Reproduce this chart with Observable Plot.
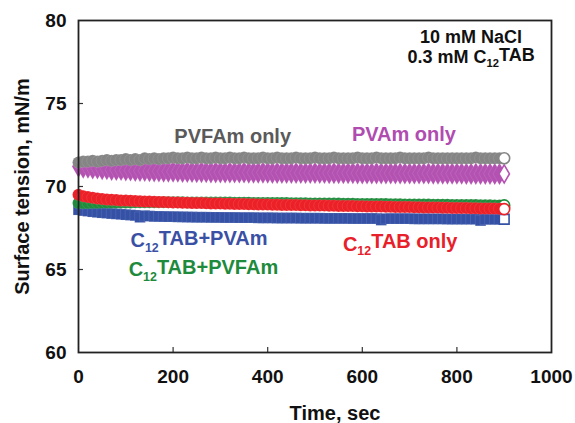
<!DOCTYPE html>
<html><head><meta charset="utf-8">
<script src="https://cdn.jsdelivr.net/npm/d3@7"></script>
<script src="https://cdn.jsdelivr.net/npm/@observablehq/plot@0.6"></script>
<style>
body{margin:0;background:#fff}
svg{font-family:Arial,"Liberation Sans",sans-serif}
</style>
</head><body><div id="chart"></div>
<script>
// Time axis (s), sampled every 10 s
const times = [0,10,20,30,40,50,60,70,80,90,100,110,120,130,140,150,160,170,180,190,
200,210,220,230,240,250,260,270,280,290,300,310,320,330,340,350,360,370,380,390,
400,410,420,430,440,450,460,470,480,490,500,510,520,530,540,550,560,570,580,590,
600,610,620,630,640,650,660,670,680,690,700,710,720,730,740,750,760,770,780,790,
800,810,820,830,840,850,860,870,880,890,900];

const pvfamOnly = [71.45,71.5,71.5,71.55,71.5,71.55,71.6,71.55,71.6,71.6,
71.65,71.6,71.65,71.6,71.7,71.65,71.7,71.65,71.7,71.7,
71.75,71.7,71.7,71.75,71.7,71.7,71.75,71.7,71.7,71.75,
71.7,71.7,71.75,71.7,71.7,71.75,71.7,71.7,71.7,71.75,
71.7,71.7,71.75,71.7,71.7,71.7,71.75,71.7,71.7,71.7,
71.75,71.7,71.7,71.7,71.75,71.7,71.7,71.7,71.7,71.75,
71.7,71.7,71.7,71.75,71.7,71.7,71.7,71.7,71.75,71.7,
71.7,71.7,71.7,71.7,71.75,71.7,71.7,71.7,71.7,71.7,
71.7,71.7,71.7,71.7,71.75,71.7,71.7,71.7,71.7,71.7,71.7];

const pvamOnly = [71.2,71.15,71.15,71.1,71.1,71.05,71.05,71.0,71.0,71.0,
70.98,70.97,70.95,70.95,70.95,70.93,70.92,70.92,70.9,70.9,
70.9,70.9,70.88,70.88,70.88,70.87,70.87,70.87,70.86,70.86,
70.86,70.85,70.85,70.85,70.85,70.85,70.84,70.84,70.84,70.84,
70.84,70.83,70.83,70.83,70.83,70.83,70.82,70.82,70.82,70.82,
70.82,70.82,70.82,70.81,70.81,70.81,70.81,70.81,70.81,70.8,
70.8,70.8,70.8,70.8,70.8,70.8,70.8,70.8,70.79,70.79,
70.79,70.79,70.79,70.79,70.79,70.78,70.78,70.78,70.78,70.78,
70.78,70.78,70.77,70.77,70.77,70.77,70.77,70.77,70.76,70.76,70.76];

const c12tabOnly = [69.5,69.42,69.36,69.32,69.28,69.25,69.22,69.2,69.18,69.16,
69.15,69.14,69.12,69.11,69.1,69.09,69.08,69.07,69.06,69.05,
69.04,69.03,69.02,69.02,69.01,69.0,69.0,68.99,68.98,68.98,
68.97,68.96,68.96,68.95,68.94,68.94,68.93,68.93,68.92,68.92,
68.91,68.9,68.9,68.89,68.89,68.88,68.88,68.87,68.87,68.86,
68.86,68.85,68.85,68.84,68.84,68.83,68.83,68.82,68.82,68.81,
68.81,68.8,68.8,68.79,68.79,68.78,68.78,68.77,68.77,68.76,
68.76,68.75,68.75,68.74,68.74,68.73,68.73,68.72,68.72,68.71,
68.71,68.7,68.7,68.69,68.69,68.68,68.68,68.67,68.67,68.66,68.64];

const c12tabPvfam = [69.0,69.0,69.01,69.02,69.02,69.03,69.03,69.03,69.04,69.04,
69.04,69.04,69.05,69.05,69.05,69.05,69.05,69.05,69.05,69.05,
69.05,69.05,69.05,69.04,69.04,69.04,69.04,69.04,69.03,69.03,
69.03,69.03,69.03,69.02,69.02,69.02,69.02,69.01,69.01,69.01,
69.01,69.0,69.0,69.0,69.0,68.99,68.99,68.99,68.99,68.98,
68.98,68.98,68.98,68.97,68.97,68.97,68.96,68.96,68.96,68.95,
68.95,68.95,68.95,68.94,68.94,68.94,68.93,68.93,68.93,68.92,
68.92,68.92,68.91,68.91,68.91,68.9,68.9,68.9,68.9,68.89,
68.89,68.89,68.88,68.88,68.88,68.87,68.87,68.87,68.86,68.86,68.86];

const c12tabPvam = [68.6,68.55,68.52,68.48,68.45,68.42,68.4,68.37,68.35,68.33,
68.3,68.28,68.26,68.15,68.24,68.22,68.2,68.2,68.19,68.18,
68.18,68.17,68.17,68.16,68.16,68.15,68.15,68.15,68.14,68.14,
68.14,68.13,68.13,68.13,68.12,68.12,68.12,68.12,68.11,68.11,
68.11,68.11,68.1,68.1,68.1,68.1,68.1,68.09,68.09,68.09,
68.09,68.09,68.08,68.08,68.08,68.08,68.08,68.08,68.07,68.07,
68.07,68.07,68.07,68.07,67.98,68.06,68.06,68.06,68.06,68.06,
68.06,68.05,68.05,68.05,68.05,68.05,68.05,68.05,68.04,68.04,
68.04,68.04,68.04,68.04,68.04,67.95,68.03,68.03,68.03,68.03,68.03];

const xTicks = [0,200,400,600,800,1000];
const yTicks = [60,65,70,75,80];

// series: name, values, symbol, colour (drawn in this order)
const seriesNames   = ["C12TAB+PVAm","C12TAB+PVFAm","C12TAB only","PVAm only","PVFAm only"];
const seriesValues  = [c12tabPvam, c12tabPvfam, c12tabOnly, pvamOnly, pvfamOnly];
const seriesSymbols = ["square","circle","circle","diamond","circle"];
const seriesColors  = ["#3451a6","#1f8c3c","#ec2027","#b452b2","#858585"];
const seriesSizes   = [6, 6, 6, 6.8, 6];

// annotations (time, tension, text, colour, anchor)
const labelTexts  = ["PVFAm only","PVAm only","C12TAB+PVAm","C12TAB+PVFAm","C12TAB only","10 mM NaCl","0.3 mM C12TAB"];
const labelTimes  = [326,688,110,106,559,830,830];
const labelValues = [72.65,72.77,66.33,64.58,66.14,78.67,77.41];
const labelColors = ["#5a5a5a","#b04cb0","#3a50a4","#1e8a3c","#e8202a","#111","#111"];
const labelAnchor = ["middle","middle","start","start","start","middle","middle"];
const labelSizes  = [20,20,20,20,20,18,18];

const marks = [];
seriesNames.forEach((name, k) => {
  const rows = times.map((t, i) => ({t, v: seriesValues[k][i], last: i === times.length - 1}));
  marks.push(Plot.dot(rows.filter(d => !d.last), {
    x: "t", y: "v", r: seriesSizes[k], symbol: () => seriesSymbols[k],
    fill: seriesColors[k], stroke: "white", strokeWidth: 0.5, strokeOpacity: 0.2
  }));
  marks.push(Plot.dot(rows.filter(d => d.last), {
    x: "t", y: "v", r: 5.5, symbol: () => seriesSymbols[k],
    fill: "white", stroke: seriesColors[k], strokeWidth: 1.6
  }));
});

const labels = labelTexts.map((s, i) => ({s, t: labelTimes[i], v: labelValues[i], c: labelColors[i], a: labelAnchor[i], f: labelSizes[i]}));
["middle","start"].forEach(a => {
  [20,18].forEach(f => {
    marks.push(Plot.text(labels.filter(d => d.a === a && d.f === f), {
      x: "t", y: "v", text: "s", fill: "c", textAnchor: a, lineAnchor: "bottom",
      fontSize: f, fontWeight: "bold"
    }));
  });
});

const chart = Plot.plot({
  width: 575, height: 423,
  marginLeft: 78, marginRight: 24, marginTop: 20, marginBottom: 71,
  x: {domain: [0, 1000]},
  y: {domain: [60, 80]},
  style: {fontFamily: 'Arial, "Liberation Sans", sans-serif', background: "white", color: "#111"},
  marks: [
    ...marks,
    Plot.tickX(xTicks.slice(1, -1), {x: d => d, insetTop: 327, stroke: "#333", strokeWidth: 1.2}),
    Plot.tickY(yTicks.slice(1, -1), {y: d => d, insetRight: 468, stroke: "#333", strokeWidth: 1.2}),
    Plot.frame({stroke: "#222", strokeWidth: 1.8}),
    Plot.axisX({ticks: xTicks, tickSize: 0, tickPadding: 17, fontSize: 19, fontWeight: "bold", label: null, tickFormat: d => String(d), fill: "#111"}),
    Plot.axisY({ticks: yTicks, tickSize: 0, tickPadding: 12, fontSize: 19, fontWeight: "bold", label: null, tickFormat: d => String(d), fill: "#111"}),
    Plot.text(["Time, sec"], {frameAnchor: "bottom", textAnchor: "middle", dx: 20, dy: 67, lineAnchor: "bottom", fontSize: 20, fontWeight: "bold", fill: "#111"}),
    Plot.text(["Surface tension, mN/m"], {frameAnchor: "left", textAnchor: "middle", dx: -56, rotate: -90, lineAnchor: "middle", fontSize: 20, fontWeight: "bold", fill: "#111"})
  ]
});
document.getElementById("chart").appendChild(chart);

// render "C12" with a subscript
chart.querySelectorAll("text").forEach(el => {
  const s = el.textContent;
  if (!s.includes("C12") || el.children.length) return;
  const idx = s.indexOf("C12");
  const before = s.slice(0, idx + 1), after = s.slice(idx + 3);
  el.textContent = "";
  const ns = "http://www.w3.org/2000/svg";
  const a = document.createElementNS(ns, "tspan"); a.textContent = before; el.appendChild(a);
  const b = document.createElementNS(ns, "tspan"); b.textContent = "12"; b.setAttribute("font-size", "0.62em"); b.setAttribute("dy", "0.35em"); el.appendChild(b);
  const c = document.createElementNS(ns, "tspan"); c.textContent = after; c.setAttribute("dy", "-0.35em"); el.appendChild(c);
});
</script>
</body></html>
